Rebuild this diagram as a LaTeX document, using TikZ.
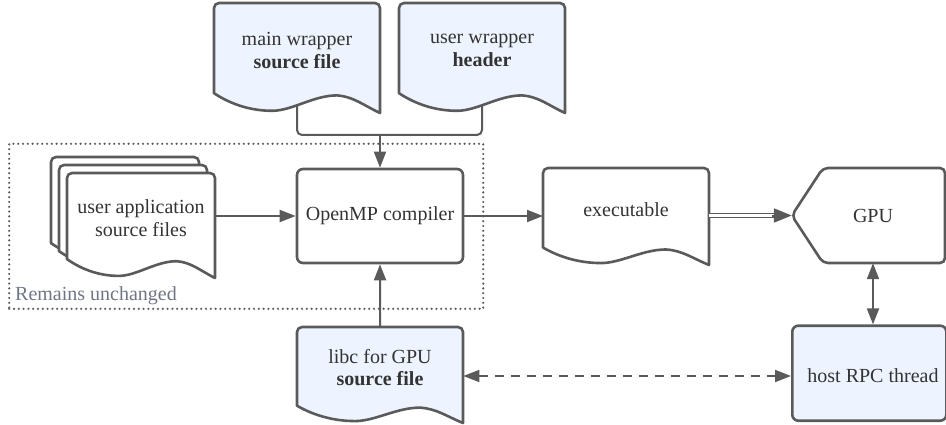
\documentclass[tikz,border=0pt]{standalone}
\usepackage{fontspec}
\setmainfont{Liberation Serif}
\newfontfamily\diagfont{Liberation Serif}
\usetikzlibrary{arrows.meta}

\definecolor{lc}{HTML}{5A5A5A}
\definecolor{tc}{HTML}{333333}
\definecolor{fillb}{HTML}{EDF4FF}
\definecolor{note}{HTML}{6F7585}

% document symbol: rounded top corners, wavy bottom edge
% #1 name, #2 left x, #3 top y, #4 width, #5 height, #6 fill colour
\newcommand\docshape[6]{%
  \node[inner sep=0pt, minimum width=#4pt, minimum height=#5pt, anchor=north west] (#1) at (#2,#3) {};
  \draw[docline, fill=#6]
    ({#2},{#3-0.82*#5}) -- ({#2},{#3-5})
    arc[start angle=180, end angle=90, radius=5] -- ({#2+#4-5},{#3})
    arc[start angle=90, end angle=0, radius=5] -- ({#2+#4},{#3-#5})
    .. controls ({#2+0.9*#4},{#3-0.93*#5}) and ({#2+0.84*#4},{#3-0.85*#5}) .. ({#2+0.74*#4},{#3-0.84*#5})
    .. controls ({#2+0.6*#4},{#3-0.84*#5}) and ({#2+0.47*#4},{#3-0.98*#5}) .. ({#2+0.35*#4},{#3-0.98*#5})
    .. controls ({#2+0.22*#4},{#3-0.98*#5}) and ({#2+0.1*#4},{#3-0.92*#5}) .. ({#2},{#3-0.82*#5})
    -- cycle;}

\tikzset{
  docline/.style={draw=lc, line width=2.6pt, line join=round},
  box/.style={draw=lc, line width=2.6pt, rounded corners=6pt, inner sep=0pt},
  lbl/.style={align=center, inner sep=0pt, font=\diagfont\fontsize{20}{22.5}\selectfont},
  conn/.style={draw=lc, line width=2pt, -{Triangle[length=16pt,width=12pt]}},
  bi/.style={draw=lc, line width=2pt, {Triangle[length=16pt,width=12pt]}-{Triangle[length=16pt,width=12pt]}},
  dotbox/.style={draw=lc, line width=2.4pt, dash pattern=on 0pt off 4.8pt, line cap=round, inner sep=0pt},
}

\begin{document}
\begin{tikzpicture}[x=1pt, y=1pt, text=tc]
\useasboundingbox (0,0) rectangle (946,424);

% area that stays untouched
\node[dotbox, minimum width=474pt, minimum height=165pt, anchor=south west] (keep) at (8,114) {};
\node[lbl, anchor=base west, text=note] (keep-t) at (15,124) {Remains unchanged};

% wrapper sources
\docshape{mw}{214}{421}{166}{110}{fillb}
\node[lbl] (mw-t) at (297,373.5) {main wrapper\\\textbf{source file}};
\docshape{uw}{399}{421}{166}{110}{fillb}
\node[lbl] (uw-t) at (482,373.5) {user wrapper\\\textbf{header}};

% stack of user sources
\docshape{ua3}{51}{267}{148}{105}{white}
\docshape{ua2}{59}{259}{148}{105}{white}
\docshape{ua1}{67}{251}{148}{105}{white}
\node[lbl] (ua-t) at (141,206) {user application\\source files};

% compiler
\node[box, minimum width=166pt, minimum height=94pt] (omp) at (380,208) {};
\node[lbl] (omp-t) at (380,208) {OpenMP compiler};

% executable
\docshape{ex}{543}{256}{166}{97}{white}
\node[lbl] (ex-t) at (626,214) {executable};

% GPU
\node[inner sep=0pt, minimum width=153pt, minimum height=95pt] (gpu) at (868.5,208.5) {};
\draw[docline, rounded corners=5pt] (884,256) -- (945,256) -- (945,161) -- (823,161)
  -- (gpu.west) -- (823,256) -- cycle;
\node[lbl] (gpu-t) at (873,208) {GPU};

% host thread
\node[box, fill=fillb, minimum width=154pt, minimum height=95pt, anchor=south west] (host) at (791,2) {};
\node[lbl] (host-t) at (873,48) {host RPC thread};

% libc
\docshape{libc}{297}{97}{166}{96}{fillb}
\node[lbl] (libc-t) at (380,56.5) {libc for GPU\\\textbf{source file}};

% connectors
\coordinate (mw-out) at (297,318);
\coordinate (uw-out) at (482,318);
\coordinate (bus) at (380,289);
\draw[draw=lc, line width=2pt, rounded corners=5pt] (mw-out) |- (bus) -| (uw-out);
\draw[conn] (bus) -- (omp.north);
\draw[conn] (ua1.east |- omp.west) -- (omp.west);
\draw[conn] (omp.east) -- (ex.west |- omp.east);
\draw[conn] (libc.north) -- (omp.south);

\coordinate (gpu-in) at ([xshift=-12pt]gpu.west);
\coordinate (gpu-tail) at ([xshift=-20pt]gpu.west);
\draw[draw=lc, line width=1.6pt, double=white, double distance=2.6pt] (ex.east |- gpu.west) -- (gpu-in);
\draw[draw=lc, line width=2pt, -{Triangle[length=18pt,width=14pt]}] (gpu-tail) -- (gpu.west);

\draw[bi] (gpu-t |- gpu.south) -- (host-t |- host.north);
\draw[bi, dash pattern=on 9pt off 7pt] (libc.east |- host-t) -- (host.west |- host-t);
\end{tikzpicture}
\end{document}
